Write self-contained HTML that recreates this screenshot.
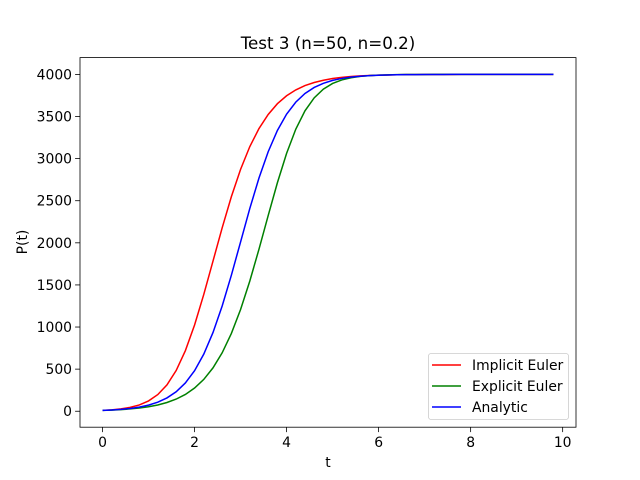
<!DOCTYPE html>
<html><head><meta charset="utf-8"><style>
body{margin:0;background:#fff;}
svg{display:block;font-family:"DejaVu Sans","Liberation Sans",sans-serif;}
</style></head><body>
<svg id="chart" width="640" height="480">
<rect width="640" height="480" fill="#fff"/>
<text x="328" y="49" text-anchor="middle" font-size="16.7">Test 3 (n=50, n=0.2)</text>
<g id="plot"></g>
<text x="328" y="467" text-anchor="middle" font-size="13.9">t</text>
<text transform="translate(27,242) rotate(-90)" text-anchor="middle" font-size="13.9">P(t)</text>
</svg>
<script>
const xTicks = [0, 2, 4, 6, 8, 10];
const yTicks = [0, 500, 1000, 1500, 2000, 2500, 3000, 3500, 4000];
const seriesNames = ["Implicit Euler", "Explicit Euler", "Analytic"];
const seriesColors = ["#ff0000", "#008000", "#0000ff"];
const implicitEuler = [10,16.6,27.6,45.6,75.1,122.6,197.8,313.3,483.3,719.3,1024.1,1386.6,1781.7,2178.5,2548.5,2872,3142,3357,3524,3652,3746,3816,3867,3904,3931,3951,3965,3975,3982.6,3987.4,3991,3993.5,3995.3,3996.6,3997.6,3998.3,3998.8,3999.1,3999.4,3999.6,3999.7,3999.8,3999.8,3999.9,3999.9,3999.9,4000,4000,4000,4000];
const explicitEuler = [10,14,19.6,27.4,38.2,53.4,74.4,103.7,144.1,199.6,275.4,378,514.9,694.3,923.8,1208,1545.3,1924.6,2324,2713.5,3062.6,3349.7,3567.5,3721.8,3825.3,3892.1,3934.1,3960,3975.8,3985.4,3991.2,3994.7,3996.8,3998.1,3998.9,3999.3,3999.6,3999.8,3999.9,3999.9,4000,4000,4000,4000,4000,4000,4000,4000,4000,4000];
const analytic = [10,14.9,22.2,33,49,72.7,107.5,158.3,231.7,336.1,481.5,678.1,933.8,1249.6,1615.8,2011,2406.8,2769.3,3081.9,3334.2,3527.8,3670.7,3773.1,3845,3894.7,3928.8,3952,3967.7,3978.3,3985.4,3990.2,3993.4,3995.6,3997.1,3998,3998.7,3999.1,3999.4,3999.6,3999.7,3999.8,3999.9,3999.9,3999.9,4000,4000,4000,4000,4000,4000];
const tValues = [0,0.2,0.4,0.6,0.8,1,1.2,1.4,1.6,1.8,2,2.2,2.4,2.6,2.8,3,3.2,3.4,3.6,3.8,4,4.2,4.4,4.6,4.8,5,5.2,5.4,5.6,5.8,6,6.2,6.4,6.6,6.8,7,7.2,7.4,7.6,7.8,8,8.2,8.4,8.6,8.8,9,9.2,9.4,9.6,9.8];

const L=80,R=576,T=57.6,B=427.2;
const xMin=-0.49,xMax=10.29,yMin=-189.5,yMax=4199.5;
const sx=v=>L+(v-xMin)/(xMax-xMin)*(R-L);
const sy=v=>B-(v-yMin)/(yMax-yMin)*(B-T);
const NS="http://www.w3.org/2000/svg";
const g=document.getElementById('plot');
function mk(tag,attrs,parent){const e=document.createElementNS(NS,tag);for(const k in attrs)e.setAttribute(k,attrs[k]);(parent||g).appendChild(e);return e;}

const all=[implicitEuler,explicitEuler,analytic];
all.forEach((arr,i)=>{
  const p=mk('polyline',{points:arr.map((v,j)=>sx(tValues[j])+','+sy(v)).join(' '),fill:'none',stroke:seriesColors[i],'stroke-width':1.5});
  
  
});

const frame=mk('rect',{x:L,y:T,width:R-L,height:B-T,fill:'none',stroke:'#000','stroke-width':0.8});



xTicks.forEach(v=>{
  const x=sx(v);
  const t=mk('line',{x1:x,x2:x,y1:B,y2:B+4.9,stroke:'#000','stroke-width':0.8});
  
  
  const l=mk('text',{x:x,y:B+20,'text-anchor':'middle','font-size':13.9});
  l.textContent=v;
  
  
});
yTicks.forEach(v=>{
  const y=sy(v);
  const t=mk('line',{x1:L-4.9,x2:L,y1:y,y2:y,stroke:'#000','stroke-width':0.8});
  
  
  const l=mk('text',{x:L-8,y:y+5,'text-anchor':'end','font-size':13.9});
  l.textContent=v;
  
  
});

const lg=mk('g',{});


mk('rect',{x:428.5,y:353.5,width:140,height:66,rx:2.5,fill:'#fff','fill-opacity':0.8,stroke:'#ccc','stroke-width':0.8},lg);
seriesNames.forEach((n,i)=>{
  const y=365+i*21;
  const e=mk('g',{},lg);
  
  
  mk('line',{x1:432,x2:461,y1:y,y2:y,stroke:seriesColors[i],'stroke-width':1.5},e);
  const tx=mk('text',{x:472,y:y+5,'font-size':13.9},e);
  tx.textContent=n;
});
</script>
</body></html>
